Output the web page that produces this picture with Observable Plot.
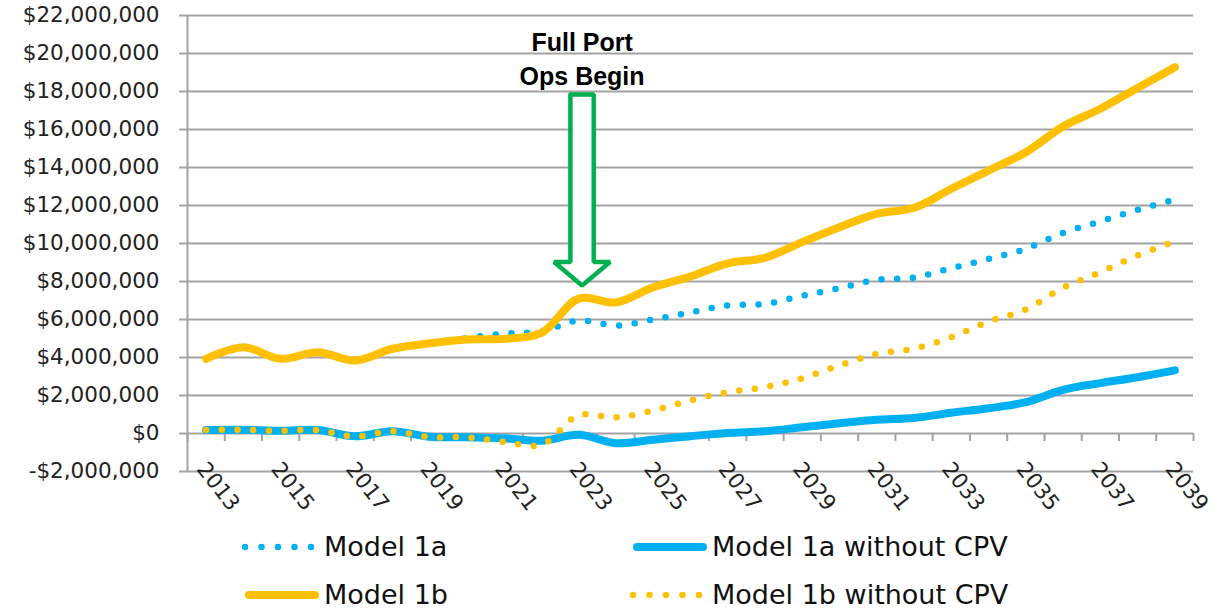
<!DOCTYPE html>
<html>
<head>
<meta charset="utf-8">
<script src="https://cdn.jsdelivr.net/npm/d3@7"></script>
<script src="https://cdn.jsdelivr.net/npm/@observablehq/plot@0.6"></script>
<style>
  html, body { margin: 0; padding: 0; background: #fff; }
  #wrap { position: relative; width: 1213px; height: 609px; overflow: hidden; font-family: "DejaVu Sans", sans-serif; }
  .lg-text { position: absolute; font-size: 27px; line-height: 32px; color: #111; white-space: nowrap; }
  .lg-sw { position: absolute; }
</style>
</head>
<body>
<div id="wrap"></div>
<script>
// ---- data (values in millions of dollars) ----
const years = [2013, 2014, 2015, 2016, 2017, 2018, 2019, 2020, 2021, 2022, 2023, 2024, 2025, 2026,
               2027, 2028, 2029, 2030, 2031, 2032, 2033, 2034, 2035, 2036, 2037, 2038, 2039];
const model1a = [3.93, 4.54, 3.93, 4.28, 3.84, 4.46, 4.75, 5.02, 5.26, 5.37, 5.95, 5.68, 6.0, 6.37,
                 6.74, 6.82, 7.25, 7.65, 8.09, 8.21, 8.7, 9.19, 9.72, 10.56, 11.16, 11.77, 12.32];
const model1aNoCPV = [0.19, 0.2, 0.15, 0.18, -0.15, 0.12, -0.17, -0.2, -0.25, -0.38, -0.07, -0.51, -0.33, -0.14,
                      0.03, 0.12, 0.33, 0.54, 0.72, 0.82, 1.09, 1.33, 1.65, 2.3, 2.65, 2.96, 3.32];
const model1b = [3.93, 4.54, 3.93, 4.28, 3.84, 4.46, 4.75, 4.95, 4.98, 5.3, 7.1, 6.9, 7.7, 8.26,
                 8.96, 9.25, 10.07, 10.86, 11.56, 11.88, 12.88, 13.84, 14.8, 16.16, 17.09, 18.19, 19.28];
const model1bNoCPV = [0.19, 0.19, 0.14, 0.18, -0.16, 0.12, -0.19, -0.2, -0.44, -0.6, 0.96, 0.85, 1.21, 1.75,
                      2.17, 2.44, 2.91, 3.58, 4.19, 4.47, 5.07, 5.89, 6.53, 7.67, 8.49, 9.37, 10.12];
const seriesNames = ["Model 1a", "Model 1a without CPV", "Model 1b", "Model 1b without CPV"];
const yTickValues = [-2, 0, 2, 4, 6, 8, 10, 12, 14, 16, 18, 20, 22];
const xLabelYears = [2013, 2015, 2017, 2019, 2021, 2023, 2025, 2027, 2029, 2031, 2033, 2035, 2037, 2039];

// annotation ("Full Port Ops Begin" arrow) in data units
const annoText = "Full Port\nOps Begin";
const annoYear = 2023.09;
const annoTextY = 19.82;
const arrowShaftHalf = 0.313, arrowHeadHalf = 0.751;
const arrowTop = 17.84, arrowHeadBase = 9.03, arrowTip = 7.79;

// ---- build tables ----
const M = 1e6;
const toRows = (vals) => years.map((yr, i) => ({year: yr, value: vals[i] * M}));
const rows1a = toRows(model1a), rows1aN = toRows(model1aNoCPV), rows1b = toRows(model1b), rows1bN = toRows(model1bNoCPV);
const boundaries = [...years.map(y => y - 0.5), years[years.length - 1] + 0.5];
const arrowPts = [
  [annoYear - arrowShaftHalf, arrowTop], [annoYear + arrowShaftHalf, arrowTop],
  [annoYear + arrowShaftHalf, arrowHeadBase], [annoYear + arrowHeadHalf, arrowHeadBase],
  [annoYear, arrowTip], [annoYear - arrowHeadHalf, arrowHeadBase],
  [annoYear - arrowShaftHalf, arrowHeadBase], [annoYear - arrowShaftHalf, arrowTop]
].map(([x, y]) => ({x, y: y * M}));

const BLUE = "#00B0F0", YELLOW = "#FFC000", GREEN = "#00B050", GRID = "#a3a3a3";
const fmtMoney = (d) => (d < 0 ? "-" : "") + "$" + d3.format(",")(Math.abs(d));

const dotted = {strokeDasharray: "0 15.7", strokeLinecap: "round", strokeWidth: 6.5, curve: "catmull-rom"};
const solid = {strokeLinecap: "round", strokeLinejoin: "round", strokeWidth: 8, curve: "catmull-rom"};

const chart = Plot.plot({
  width: 1213,
  height: 525,
  marginLeft: 187,
  marginRight: 20,
  marginTop: 15,
  marginBottom: 54,
  x: {domain: [years[0] - 0.5, years[years.length - 1] + 0.5], axis: null},
  y: {domain: [yTickValues[0] * M, yTickValues[yTickValues.length - 1] * M], axis: null},
  style: {fontFamily: "DejaVu Sans, sans-serif", fontSize: "21.5px", background: "white", overflow: "visible", color: "#222"},
  marks: [
    Plot.ruleY(yTickValues.map(v => v * M), {stroke: GRID, strokeWidth: 2}),
    Plot.ruleX([years[0] - 0.5], {stroke: GRID, strokeWidth: 2}),
    Plot.ruleX(boundaries, {y1: 0, y2: 0, insetBottom: -8, stroke: GRID, strokeWidth: 2}),
    Plot.axisY({ticks: yTickValues.map(v => v * M), tickSize: 8, tickPadding: 20, tickFormat: fmtMoney,
                stroke: GRID, strokeWidth: 2, fill: "#222", fontSize: 21.5}),
    Plot.text(xLabelYears, {x: d => d, frameAnchor: "bottom", text: d => String(d), rotate: 52,
                            dx: 12, dy: 15, textAnchor: "middle", lineAnchor: "middle", fontSize: 21.5, fill: "#222"}),
    Plot.line(arrowPts, {x: "x", y: "y", stroke: GREEN, strokeWidth: 4.5, fill: "white", strokeLinejoin: "miter", curve: "linear"}),
    Plot.text([annoText], {x: annoYear, y: annoTextY * M, text: d => d, fontSize: 25, fontWeight: "bold",
                           fontFamily: "Liberation Sans, Arial, sans-serif", lineHeight: 1.36, lineAnchor: "middle", fill: "#000"}),
    Plot.line(rows1a, {x: "year", y: "value", stroke: BLUE, ...dotted}),
    Plot.line(rows1aN, {x: "year", y: "value", stroke: BLUE, ...solid}),
    Plot.line(rows1b, {x: "year", y: "value", stroke: YELLOW, ...solid}),
    Plot.line(rows1bN, {x: "year", y: "value", stroke: YELLOW, ...dotted})
  ]
});

const wrap = document.getElementById("wrap");
wrap.appendChild(chart);

// ---- legend (HTML below the SVG) ----
const legendItems = [
  {name: seriesNames[0], color: BLUE, dotted: true, swX: 242, textX: 324, cy: 547},
  {name: seriesNames[1], color: BLUE, dotted: false, swX: 633, textX: 712, cy: 547},
  {name: seriesNames[2], color: YELLOW, dotted: false, swX: 245, textX: 324, cy: 595},
  {name: seriesNames[3], color: YELLOW, dotted: true, swX: 630, textX: 712, cy: 595}
];
for (const it of legendItems) {
  const sw = document.createElementNS("http://www.w3.org/2000/svg", "svg");
  sw.setAttribute("class", "lg-sw");
  sw.setAttribute("width", 80);
  sw.setAttribute("height", 12);
  sw.style.left = it.swX + "px";
  sw.style.top = (it.cy - 6) + "px";
  const ln = document.createElementNS("http://www.w3.org/2000/svg", "line");
  ln.setAttribute("y1", 6); ln.setAttribute("y2", 6);
  ln.setAttribute("stroke", it.color);
  ln.setAttribute("stroke-linecap", "round");
  if (it.dotted) {
    ln.setAttribute("x1", 3); ln.setAttribute("x2", 70);
    ln.setAttribute("stroke-width", 6.5);
    ln.setAttribute("stroke-dasharray", "0 16.5");
  } else {
    ln.setAttribute("x1", 4); ln.setAttribute("x2", 70);
    ln.setAttribute("stroke-width", 8);
  }
  sw.appendChild(ln);
  wrap.appendChild(sw);
  const tx = document.createElement("div");
  tx.className = "lg-text";
  tx.textContent = it.name;
  tx.style.left = it.textX + "px";
  tx.style.top = (it.cy - 16) + "px";
  wrap.appendChild(tx);
}
</script>
</body>
</html>
